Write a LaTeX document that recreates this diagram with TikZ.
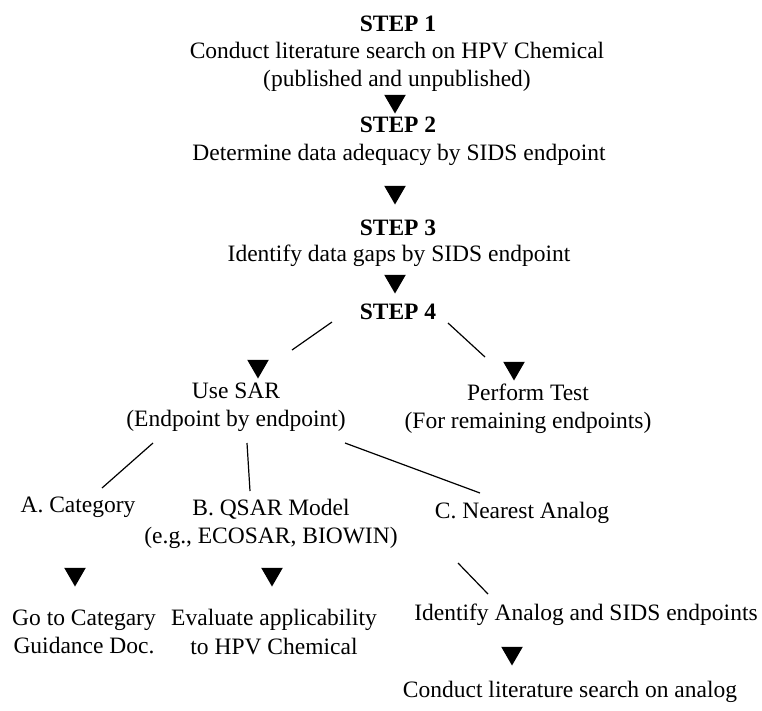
\documentclass[tikz,border=0pt]{standalone}
\usepackage{fontspec}
\setmainfont{Liberation Serif}
\usetikzlibrary{shapes.geometric}

\begin{document}
\begin{tikzpicture}[x=1pt, y=-1pt,
        txt/.style={align=center, inner sep=0pt, font=\fontsize{23.5}{28.5}\selectfont},
        steplabel/.style={txt, font=\fontsize{23.5}{28.5}\selectfont\bfseries},
        tri/.style={regular polygon, regular polygon sides=3, shape border rotate=180,
            fill=black, minimum size=25pt, inner sep=0pt, outer sep=0pt},
        link/.style={line width=1.2pt}]
        \useasboundingbox (0,0) rectangle (762,710);

        % Steps 1 to 4
        \node[steplabel] (s1) at (398,24) {STEP 1};
        \node[txt] (lit1) at (397,67) {Conduct literature search on HPV Chemical\\(published and unpublished)};
        \node[tri] (t1) at (395,101) {};
        \node[steplabel] (s2) at (398,125) {STEP 2};
        \node[txt] (adeq) at (399,155) {Determine data adequacy by SIDS endpoint};
        \node[tri] (t2) at (395,192) {};
        \node[steplabel] (s3) at (398,228) {STEP 3};
        \node[txt] (gaps) at (399,256) {Identify data gaps by SIDS endpoint};
        \node[tri] (t3) at (395,281) {};
        \node[steplabel] (s4) at (398,312) {STEP 4};

        % SAR or test
        \node[tri] (tsar) at (258,366) {};
        \node[txt] (sar) at (236,407) {Use SAR\\(Endpoint by endpoint)};
        \node[tri] (ttest) at (514,368) {};
        \node[txt] (test) at (528,409) {Perform Test\\(For remaining endpoints)};
        \draw[link] ([shift={(-66,10)}]s4.center) -- ([shift={(34,-16)}]tsar.center);
        \draw[link] ([shift={(50,11)}]s4.center) -- ([shift={(-29,-11)}]ttest.center);

        % SAR options
        \node[txt] (cat) at (78,507) {A. Category};
        \node[txt] (qsar) at (271,524) {B. QSAR Model\\(e.g., ECOSAR, BIOWIN)};
        \node[txt] (near) at (522,513) {C. Nearest Analog};
        \draw[link] ([shift={(-83,36)}]sar.center) -- ([shift={(24,-19)}]cat.center);
        \draw[link] ([shift={(11,36)}]sar.center) -- ([shift={(-21,-33)}]qsar.center);
        \draw[link] ([shift={(109,36)}]sar.center) -- ([shift={(-42,-20)}]near.center);

        % Follow-up
        \node[tri] (ta) at (75,574) {};
        \node[tri] (tb) at (272,574) {};
        \node[txt] (guide) at (84,632) {Go to Categary\\Guidance Doc.};
        \node[txt] (evalq) at (274,632) {Evaluate applicability\\to HPV Chemical};
        \node[txt] (ident) at (586,615) {Identify Analog and SIDS endpoints};
        \draw[link] ([shift={(-64,50)}]near.center) -- ([shift={(-98,-21)}]ident.center);
        \node[tri] (tc) at (512,653) {};
        \node[txt] (litan) at (570,692) {Conduct literature search on analog};
    \end{tikzpicture}
\end{document}
